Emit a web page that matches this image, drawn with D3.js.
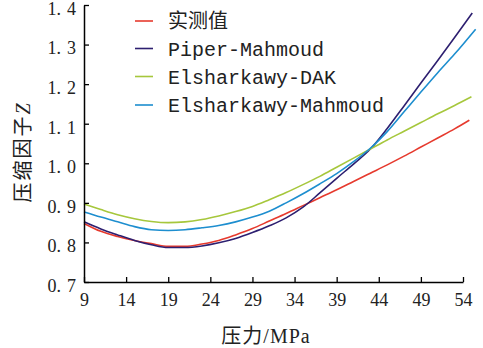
<!DOCTYPE html>
<html>
<head>
<meta charset="utf-8">
<script src="https://cdn.jsdelivr.net/npm/d3@7"></script>
<style>
  html, body { margin: 0; padding: 0; background: #fff; }
  svg { display: block; }
</style>
</head>
<body>
<svg id="chart" width="483" height="348"></svg>
<script>
// Pressure samples (MPa) shared by all series; each series ends at its own last pressure.
const pressure = [9, 11, 13, 15, 17, 19, 21, 23, 25, 27, 29, 31, 33, 35, 37, 39, 41, 43, 45, 47, 49, 51, 53];
const seriesNames = ["实测值", "Piper-Mahmoud", "Elsharkawy-DAK", "Elsharkawy-Mahmoud"];
const seriesColors = ["#e63a2e", "#2d1f70", "#a6c73c", "#1d8ecf"];
const endPressure = [54.75, 55.1, 55.0, 55.5];

// Compressibility factor Z for each series at the pressures above, plus the end point.
const measured = [0.848, 0.828, 0.815, 0.805, 0.797, 0.790, 0.790, 0.796, 0.805, 0.819, 0.835, 0.854, 0.873, 0.893, 0.913, 0.933, 0.954, 0.975, 0.996, 1.018, 1.041, 1.064, 1.087, 1.109];
const piperMahmoud = [0.852, 0.834, 0.819, 0.805, 0.794, 0.787, 0.787, 0.791, 0.799, 0.810, 0.825, 0.842, 0.862, 0.889, 0.925, 0.962, 0.998, 1.036, 1.088, 1.145, 1.203, 1.260, 1.318, 1.380];
const elsharkawyDAK = [0.897, 0.883, 0.870, 0.860, 0.853, 0.850, 0.852, 0.858, 0.867, 0.878, 0.891, 0.908, 0.926, 0.946, 0.967, 0.990, 1.013, 1.036, 1.059, 1.081, 1.103, 1.125, 1.146, 1.168];
const elsharkawyMahmoud = [0.877, 0.864, 0.852, 0.840, 0.832, 0.830, 0.832, 0.837, 0.843, 0.852, 0.864, 0.879, 0.900, 0.923, 0.948, 0.974, 1.004, 1.038, 1.080, 1.130, 1.180, 1.229, 1.276, 1.339];
const seriesValues = [measured, piperMahmoud, elsharkawyDAK, elsharkawyMahmoud];

const xTicks = [9, 14, 19, 24, 29, 34, 39, 44, 49, 54];
const yTicks = [0.7, 0.8, 0.9, 1.0, 1.1, 1.2, 1.3, 1.4];

const svg = d3.select("#chart");
const x = d3.scaleLinear().domain([9, 54]).range([84, 463]);
const y = d3.scaleLinear().domain([0.7, 1.4]).range([282, 5]);

const serif = "'Liberation Serif', 'DejaVu Serif', serif";

// Lines
const line = d3.line()
  .x(d => x(d[0]))
  .y(d => y(d[1]))
  .curve(d3.curveMonotoneX);

seriesValues.forEach((vals, i) => {
  const pts = pressure.map((p, j) => [p, vals[j]]);
  pts.push([endPressure[i], vals[vals.length - 1]]);
  svg.append("path")
    .datum(pts)
    .attr("fill", "none")
    .attr("stroke", seriesColors[i])
    .attr("stroke-width", 1.6)
    .attr("d", line);
});

// Axes with inward ticks
const xAxis = d3.axisBottom(x).tickValues(xTicks).tickSizeInner(-5).tickSizeOuter(0).tickPadding(10).tickFormat(d3.format("d"));
const gx = svg.append("g").attr("transform", "translate(0,282)").call(xAxis);

const yAxis = d3.axisLeft(y).tickValues(yTicks).tickSizeInner(-5).tickSizeOuter(0).tickPadding(8).tickFormat(d3.format(".1f"));
const gy = svg.append("g").attr("transform", "translate(84,0)").call(yAxis);

[gx, gy].forEach(g => {
  g.select(".domain").attr("stroke", "#000").attr("stroke-width", 1.5);
  g.selectAll(".tick line").attr("stroke", "#000").attr("stroke-width", 1.3);
  g.selectAll(".tick text").attr("font-family", serif).attr("font-size", 18).attr("fill", "#222");
});

gx.selectAll(".tick text").attr("dy", "0.78em");

// Y labels: wide gap after the decimal point, sitting slightly below the tick
gy.selectAll(".tick text").attr("dy", "0.52em").each(function(d) {
  const t = d3.select(this);
  const s = d3.format(".1f")(d).split(".");
  t.text(null);
  t.append("tspan").text(s[0] + ".");
  t.append("tspan").attr("dx", 6).text(s[1]);
});

// Axis titles
svg.append("text")
  .attr("x", 266).attr("y", 343)
  .attr("text-anchor", "middle")
  .attr("font-size", 20)
  .attr("fill", "#222")
  .attr("letter-spacing", 1)
  .call(t => {
    t.append("tspan").attr("font-family", "'Noto Sans CJK SC', sans-serif").text("压力");
    t.append("tspan").attr("font-family", serif).text("/MPa");
  });

svg.append("text")
  .attr("transform", "translate(30,152) rotate(-90)")
  .attr("text-anchor", "middle")
  .attr("font-size", 20)
  .attr("fill", "#222")
  .attr("letter-spacing", 2)
  .call(t => {
    t.append("tspan").attr("font-family", "'Noto Sans CJK SC', sans-serif").text("压缩因子");
    t.append("tspan").attr("font-family", serif).attr("font-style", "italic").text("Z");
  });

// Legend
const legendRows = [21, 48.5, 76.5, 105];
const legend = svg.append("g");
seriesNames.forEach((name, i) => {
  const row = legend.append("g").attr("transform", `translate(0,${legendRows[i]})`);
  row.append("line")
    .attr("x1", 135).attr("x2", 153)
    .attr("y1", 0).attr("y2", 0)
    .attr("stroke", seriesColors[i])
    .attr("stroke-width", 1.6);
  row.append("text")
    .attr("x", 168).attr("y", 7)
    .attr("font-size", 20)
    .attr("font-family", i === 0 ? "'Noto Sans CJK SC', sans-serif" : "'Liberation Mono', monospace")
    .attr("fill", "#222")
    .text(name);
});
</script>
</body>
</html>
